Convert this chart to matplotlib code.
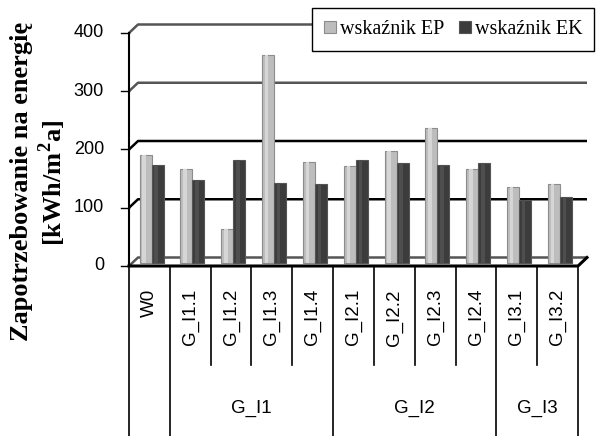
import matplotlib.pyplot as plt
from matplotlib.lines import Line2D
import numpy as np

categories = ["W0", "G_I1.1", "G_I1.2", "G_I1.3", "G_I1.4",
              "G_I2.1", "G_I2.2", "G_I2.3", "G_I2.4", "G_I3.1", "G_I3.2"]
groups = [("G_I1", 1, 5), ("G_I2", 5, 9), ("G_I3", 9, 11)]
ep = [185, 161, 58, 357, 173, 167, 193, 231, 161, 130, 135]
ek = [169, 143, 176, 138, 135, 176, 171, 169, 171, 109, 113]
yticks = [0, 100, 200, 300, 400]

W, H = 597, 436
fig = plt.figure(figsize=(W / 100, H / 100), dpi=100)

# plot area in pixels (front plane)
x0, x1 = 129, 578
y0, ytop = 266, 33
ax = fig.add_axes([x0 / W, (H - y0) / H, (x1 - x0) / W, (y0 - ytop) / H])
n = len(categories)
ax.set_xlim(0, n)
ax.set_ylim(0, 400)
ax.axis("off")

px_x = n / (x1 - x0)           # data units per pixel
px_y = 400 / (y0 - ytop)
DX, DY = 9 * px_x, 8.5 * px_y  # depth offset of the back wall

# back wall gridlines with a slanted stub to the axis
for v in yticks:
    col = "black" if v in (100, 200) else "#555555"
    ax.plot([0, DX, n + DX], [v, v + DY, v + DY], color=col, lw=1.8,
            clip_on=False, solid_capstyle="butt", zorder=1)
    ax.plot([-8 * px_x, 0], [v, v], color="black", lw=1, clip_on=False)

# y axis and floor edges
ax.plot([0, 0], [0, 400], color="black", lw=1.5, clip_on=False, zorder=4)
ax.plot([0, n, n + DX], [0, 0, DY], color="black", lw=2.2, clip_on=False, zorder=4)

# bars, shifted half the depth backwards
base = 3 * px_y
bw = 12 * px_x
off = 0.5 * DX / 2
xs = np.arange(n) + 0.5 + off
ep_bars = ax.bar(xs - bw / 2, ep, width=bw, bottom=base, color="#bdbdbd",
                 edgecolor="#8c8c8c", lw=0.8, label="wskaźnik EP", zorder=3)
ek_bars = ax.bar(xs + bw / 2, ek, width=bw, bottom=base, color="#3c3c3c",
                 edgecolor="#555555", lw=0.8, label="wskaźnik EK", zorder=3)
# cylinder highlight stripes
ax.bar(xs - bw / 2 - bw * 0.12, ep, width=bw * 0.3, bottom=base,
       color="#d6d6d6", lw=0, zorder=3)
ax.bar(xs + bw / 2 - bw * 0.12, ek, width=bw * 0.3, bottom=base,
       color="#4e4e4e", lw=0, zorder=3)

for v in yticks:
    ax.text(-25 * px_x, v, str(v), ha="right", va="center", fontsize=13,
            family="Liberation Sans")

# category table below the axis
row1 = 365
cw = (x1 - x0) / n
for i in range(n + 1):
    bottom = H if i in (0, 1, 5, 9, 11) else row1
    fig.add_artist(Line2D([(x0 + i * cw) / W] * 2,
                          [(H - y0) / H, (H - bottom) / H],
                          color="black", lw=1.2))
for i, lab in enumerate(categories):
    fig.text((x0 + (i + 0.5) * cw) / W, (H - 289) / H, lab, rotation=90,
             ha="center", va="top", fontsize=13.5, family="Liberation Sans")
for name, a, b in groups:
    fig.text((x0 + (a + b) / 2 * cw) / W, (H - 408) / H, name,
             ha="center", va="center", fontsize=13.5, family="Liberation Sans")

fig.text(22 / W, (H - 181) / H, "Zapotrzebowanie na energię", rotation=90,
         ha="center", va="center", fontsize=19, fontweight="bold",
         family="Liberation Serif")
fig.text(52 / W, (H - 183) / H, "[kWh/m$^\\mathregular{2}$a]", rotation=90,
         ha="center", va="center", fontsize=19, fontweight="bold",
         family="Liberation Serif")

leg = fig.legend(handles=[ep_bars, ek_bars], loc="upper left",
                 bbox_to_anchor=(312 / W, 1 - 8 / H), borderaxespad=0, ncol=2,
                 prop={"family": "Liberation Serif", "size": 14.5},
                 handlelength=0.6, handleheight=0.6, handletextpad=0.2,
                 columnspacing=0.7, borderpad=0.6, fancybox=False,
                 edgecolor="black", framealpha=1)
leg.get_frame().set_linewidth(1.0)

fig.savefig("out.png", dpi=100)
